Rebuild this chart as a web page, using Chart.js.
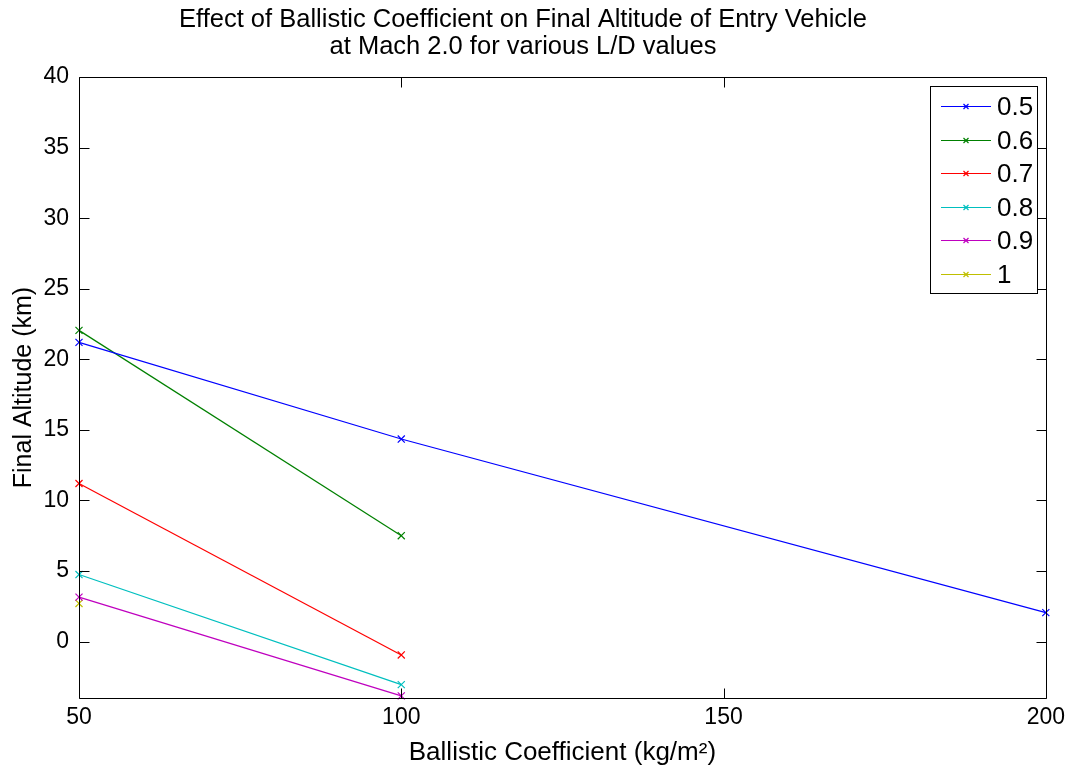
<!DOCTYPE html>
<html>
<head>
<meta charset="utf-8">
<script src="https://cdn.jsdelivr.net/npm/chart.js@4/dist/chart.umd.min.js"></script>
<style>
  html, body { margin: 0; padding: 0; background: #ffffff; }
  #wrap { width: 1071px; height: 771px; }
</style>
</head>
<body>
<div id="wrap"><canvas id="c" width="1071" height="771"></canvas></div>
<script>
// Lift-to-drag ratios (one curve each)
const ldLabels = ['0.5', '0.6', '0.7', '0.8', '0.9', '1'];
// Ballistic coefficient, kg/m^2
const coeffs = [50, 100, 200];
// Final altitude in km for each L/D
const alt05 = [21.2, 14.35, 2.05];
const alt06 = [22.05, 7.5];
const alt07 = [11.2, -0.95];
const alt08 = [4.75, -3.05];
const alt09 = [3.15, -3.85];
const alt10 = [2.7];
const lineColors = ['#0000ff', '#008000', '#ff0000', '#00bfbf', '#bf00bf', '#bfbf00'];
// Tick labels
const xTicks = [50, 100, 150, 200];
const yTicks = [0, 5, 10, 15, 20, 25, 30, 35, 40];

const seriesValues = [alt05, alt06, alt07, alt08, alt09, alt10];
const FONT = '"Liberation Sans", Arial, Helvetica, sans-serif';

const datasets = seriesValues.map((vals, i) => ({
  label: ldLabels[i],
  data: vals.map((v, j) => ({ x: coeffs[j], y: v })),
  borderColor: lineColors[i],
  backgroundColor: lineColors[i],
  borderWidth: 1.2,
  pointStyle: 'crossRot',
  pointRadius: 5,
  pointBorderWidth: 1.2,
  pointHoverRadius: 5,
  tension: 0,
  fill: false,
  clip: false
}));

// Box around the axes with inward tick marks on all four sides, plus a boxed legend
const axesFrame = {
  id: 'axesFrame',
  afterDatasetsDraw(chart) {
    const { ctx, chartArea: a, scales } = chart;
    const L = Math.round(a.left) + 0.5, R = Math.round(a.right) + 0.5;
    const T = Math.round(a.top) + 0.5, B = Math.round(a.bottom) + 0.5;
    const tl = 10;
    ctx.save();
    ctx.strokeStyle = '#000';
    ctx.lineWidth = 1;
    ctx.beginPath();
    ctx.rect(L, T, R - L, B - T);
    xTicks.forEach(v => {
      const px = Math.round(scales.x.getPixelForValue(v)) + 0.5;
      ctx.moveTo(px, B); ctx.lineTo(px, B - tl);
      ctx.moveTo(px, T); ctx.lineTo(px, T + tl);
    });
    yTicks.forEach(v => {
      const py = Math.round(scales.y.getPixelForValue(v)) + 0.5;
      ctx.moveTo(L, py); ctx.lineTo(L + tl, py);
      ctx.moveTo(R, py); ctx.lineTo(R - tl, py);
    });
    ctx.stroke();
    ctx.restore();
  },
  afterDraw(chart) {
    const { ctx } = chart;
    const bx = 930.5, by = 86.5, bw = 107, bh = 207;
    ctx.save();
    ctx.fillStyle = '#fff';
    ctx.fillRect(bx, by, bw, bh);
    ctx.strokeStyle = '#000';
    ctx.lineWidth = 1;
    ctx.strokeRect(bx, by, bw, bh);
    ldLabels.forEach((label, i) => {
      const y = Math.round(106 + i * 33.6) + 0.5;
      const col = lineColors[i];
      ctx.strokeStyle = col;
      ctx.lineWidth = 1.2;
      ctx.beginPath();
      ctx.moveTo(941, y); ctx.lineTo(991, y);
      ctx.stroke();
      const mx = 966, r = 2.5;
      ctx.beginPath();
      ctx.moveTo(mx - r, y - r); ctx.lineTo(mx + r, y + r);
      ctx.moveTo(mx - r, y + r); ctx.lineTo(mx + r, y - r);
      ctx.stroke();
      ctx.fillStyle = '#000';
      ctx.font = '26px ' + FONT;
      ctx.textBaseline = 'middle';
      ctx.textAlign = 'left';
      ctx.fillText(label, 997, y + 1);
    });
    ctx.restore();
  }
};

new Chart(document.getElementById('c'), {
  type: 'line',
  data: { datasets },
  plugins: [axesFrame],
  options: {
    responsive: false,
    animation: false,
    layout: { padding: { top: 0, right: 25, bottom: 0, left: 0 } },
    plugins: {
      legend: { display: false },
      tooltip: { enabled: false },
      title: {
        display: true,
        text: ['Effect of Ballistic Coefficient on Final Altitude of Entry Vehicle',
               'at Mach 2.0 for various L/D values'],
        color: '#000',
        font: { family: FONT, size: 25.5, weight: 'normal', lineHeight: 1.06 },
        padding: { top: 6, bottom: 17 }
      }
    },
    scales: {
      x: {
        type: 'linear',
        min: 50,
        max: 200,
        afterFit(s) { s.height = 73; },
        afterBuildTicks(s) { s.ticks = xTicks.map(v => ({ value: v })); },
        grid: { display: false, drawTicks: false },
        border: { display: false },
        ticks: { color: '#000', font: { family: FONT, size: 23 }, padding: 6, maxRotation: 0 },
        title: {
          display: true,
          text: 'Ballistic Coefficient (kg/m²)',
          color: '#000',
          font: { family: FONT, size: 26 },
          padding: { top: 0, bottom: 3 }
        }
      },
      y: {
        type: 'linear',
        min: -4,
        max: 40,
        afterFit(s) { s.width = 79; },
        afterBuildTicks(s) { s.ticks = yTicks.map(v => ({ value: v })); },
        grid: { display: false, drawTicks: false },
        border: { display: false },
        ticks: { color: '#000', font: { family: FONT, size: 23 }, padding: 10 },
        title: {
          display: true,
          text: 'Final Altitude (km)',
          color: '#000',
          font: { family: FONT, size: 25 },
          padding: { top: 9, bottom: 0 }
        }
      }
    }
  }
});
</script>
</body>
</html>
